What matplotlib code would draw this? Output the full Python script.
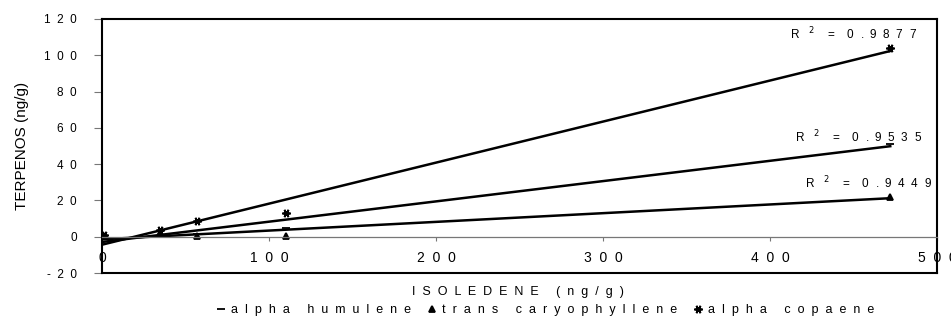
import numpy as np
import matplotlib
matplotlib.use('Agg')
import matplotlib.pyplot as plt

plt.rcParams['font.family'] = ['Liberation Sans', 'DejaVu Sans']

# ISOLEDENE (ng/g) vs terpene (ng/g)
isoledene = [1, 35, 57, 110, 472]
humulene = [0.5, 3.0, 1.5, 5.0, 51.0]
caryophyllene = [0.5, 2.0, 0.3, 0.5, 22.0]
copaene = [1.0, 3.7, 8.8, 13.2, 104.0]

series_names = ['alpha humulene', 'trans caryophyllene', 'alpha copaene']
yticks = [-20, 0, 20, 40, 60, 80, 100, 120]
xticks = [0, 100, 200, 300, 400, 500]


def spaced(s, gap='  ', wgap='    '):
    return wgap.join(gap.join(w) for w in s.split(' '))


def r2_text(v):
    return 'R   $^{2}$    =    ' + spaced(v)


fig = plt.figure(figsize=(9.51, 3.24), dpi=100)
ax = fig.add_axes([0.1073, 0.1574, 0.878, 0.784])

x = np.array(isoledene, dtype=float)
markers = ['_', '^', (6, 2, 90)]
msizes = [6, 5, 6]
handles = []
for ys, mk, ms, name in zip([humulene, caryophyllene, copaene], markers, msizes, series_names):
    y = np.array(ys)
    h, = ax.plot(x, y, linestyle='none', marker=mk, color='black', markersize=ms,
                 markeredgewidth=1.3, label=spaced(name, wgap='     '))
    handles.append(h)
    p = np.polyfit(x, y, 1)
    xl = np.array([0, x.max()])
    ax.plot(xl, np.polyval(p, xl), color='black', lw=1.8)

# R^2 labels
ax.text(488, 112, r2_text('0.9877'), ha='right', va='center', fontsize=8.5)
ax.text(491, 55, r2_text('0.9535'), ha='right', va='center', fontsize=8.5)
ax.text(497, 29.5, r2_text('0.9449'), ha='right', va='center', fontsize=8.5)

ax.set_xlim(0, 500)
ax.set_ylim(-20, 120)
ax.set_yticks(yticks)
ax.set_yticklabels([spaced(str(v)) for v in yticks], fontsize=8.5)
ax.set_xticks(xticks)
ax.set_xticklabels([spaced(str(v)) for v in xticks], fontsize=8.5)

ax.spines['bottom'].set_position(('data', 0))
ax.spines['bottom'].set_color('#777777')
ax.spines['bottom'].set_linewidth(0.9)
for s in ['left', 'top', 'right']:
    ax.spines[s].set_linewidth(1.5)
ax.plot([0, 1], [0, 0], transform=ax.transAxes, color='black', lw=1.5, clip_on=False)

ax.tick_params(axis='x', direction='out', length=3, color='#777777', pad=7)
ax.tick_params(axis='y', direction='out', length=6, color='#777777', pad=12)

ax.set_ylabel('TERPENOS (ng/g)', fontsize=11)
ax.yaxis.set_label_coords(-0.088, 0.5)
fig.text(0.545, 0.099, spaced('ISOLEDENE (ng/g)', wgap='     '), ha='center', va='center',
         fontsize=9)

fig.legend(handles=handles, loc='center', bbox_to_anchor=(0.574, 0.043), ncol=3,
           frameon=False, fontsize=9, handlelength=0.6, handletextpad=0.5,
           columnspacing=1.4, borderaxespad=0)

fig.savefig('out.png', dpi=100)
